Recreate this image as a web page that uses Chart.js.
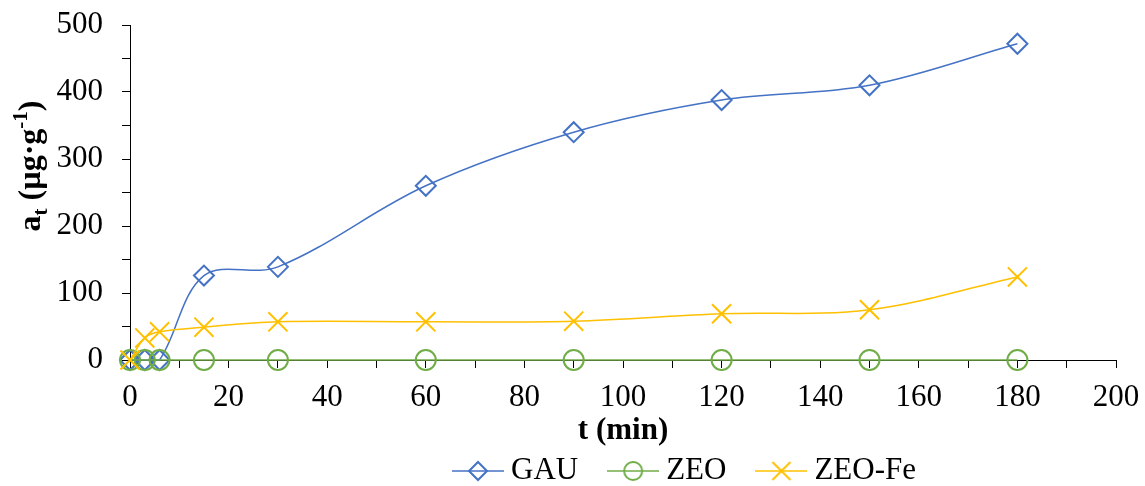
<!DOCTYPE html>
<html>
<head>
<meta charset="utf-8">
<script src="https://cdn.jsdelivr.net/npm/chart.js@4"></script>
<style>
  html, body { margin: 0; padding: 0; background: #fff; }
  #wrap { width: 1145px; height: 486px; position: relative; }
</style>
</head>
<body>
<div id="wrap"><canvas id="chart"></canvas></div>
<script>
// Contact time (min) and uptake a_t (µg·g⁻¹) for each sorbent
const times = [0, 3, 6, 15, 30, 60, 90, 120, 150, 180];
const gau = [0, 0, 0, 126, 139, 260, 340, 388, 410, 472];
const zeo = [0, 0, 0, 0, 0, 0, 0, 0, 0, 0];
const zeoFe = [0, 33, 42, 49, 57, 57, 58, 69, 75, 124];
const seriesNames = ['GAU', 'ZEO', 'ZEO-Fe'];
const seriesColors = ['#4472C4', '#70AD47', '#FFC000'];
const xTickLabels = [0, 20, 40, 60, 80, 100, 120, 140, 160, 180, 200];
const yTickLabels = [0, 100, 200, 300, 400, 500];

const FONT = "'Liberation Serif', 'Times New Roman', serif";
const pointStyles = ['rectRot', 'circle', 'crossRot'];
const pointRadii = [10, 10, 13.5];

function toXY(values) {
  return values.map((v, i) => ({ x: times[i], y: v }));
}

// Small legend swatch: a line segment with the series marker in the middle
function legendSwatch(i) {
  const c = document.createElement('canvas');
  c.width = 52; c.height = 24;
  const g = c.getContext('2d');
  g.strokeStyle = seriesColors[i];
  g.lineWidth = 1.5;
  g.beginPath(); g.moveTo(0, 12); g.lineTo(52, 12); g.stroke();
  g.lineWidth = 2;
  g.beginPath();
  if (i === 0) {
    g.moveTo(26, 3); g.lineTo(35, 12); g.lineTo(26, 21); g.lineTo(17, 12); g.closePath();
  } else if (i === 1) {
    g.arc(26, 12, 9, 0, Math.PI * 2);
  } else {
    g.moveTo(17, 3); g.lineTo(35, 21); g.moveTo(35, 3); g.lineTo(17, 21);
  }
  g.stroke();
  return c;
}

// Rotated y-axis title with subscript and superscript
const yTitlePlugin = {
  id: 'yTitle',
  afterDraw(chart) {
    const ctx = chart.ctx;
    const parts = [
      { t: 'a', size: 32, dy: 0 },
      { t: 't', size: 21, dy: 7 },
      { t: ' (µg·g', size: 32, dy: 0 },
      { t: '-1', size: 21, dy: -13 },
      { t: ')', size: 32, dy: 0 }
    ];
    ctx.save();
    ctx.fillStyle = '#000';
    ctx.textBaseline = 'alphabetic';
    let total = 0;
    parts.forEach(p => { ctx.font = 'bold ' + p.size + 'px ' + FONT; p.w = ctx.measureText(p.t).width; total += p.w; });
    ctx.translate(40, 166);
    ctx.rotate(-Math.PI / 2);
    let x = -total / 2;
    parts.forEach(p => {
      ctx.font = 'bold ' + p.size + 'px ' + FONT;
      ctx.fillText(p.t, x, p.dy);
      x += p.w;
    });
    ctx.restore();
  }
};

// Places the legend row below the axis title
const legendPlacePlugin = {
  id: 'legendPlace',
  afterLayout(chart) {
    const lg = chart.legend;
    if (!lg) return;
    lg.left = 423; lg.width = 1145 - 423; lg.right = 1145;
    lg.top = 418; lg.height = 486 - 418; lg.bottom = 486;
  }
};

const datasets = [gau, zeo, zeoFe].map((vals, i) => ({
  label: seriesNames[i],
  data: toXY(vals),
  borderColor: seriesColors[i],
  backgroundColor: seriesColors[i],
  borderWidth: 1.5,
  tension: 0.35,
  pointStyle: pointStyles[i],
  pointRadius: pointRadii[i],
  pointBorderWidth: 2,
  pointBackgroundColor: 'rgba(255,255,255,0)',
  pointBorderColor: seriesColors[i],
  clip: false,
  order: 2 - i
}));

new Chart(document.getElementById('chart'), {
  type: 'line',
  data: { datasets },
  plugins: [yTitlePlugin, legendPlacePlugin],
  options: {
    responsive: true,
    maintainAspectRatio: false,
    animation: false,
    layout: { padding: { left: 0, right: 29, top: 25, bottom: 0 } },
    plugins: {
      tooltip: { enabled: false },
      legend: {
        position: 'bottom',
        align: 'start',
        maxHeight: 36,
        labels: {
          usePointStyle: true,
          pointStyleWidth: 35,
          padding: 37.5,
          color: '#000',
          font: { family: FONT, size: 31 },
          generateLabels(chart) {
            return chart.data.datasets.map((ds, i) => ({
              text: ds.label,
              pointStyle: legendSwatch(i),
              fillStyle: 'transparent',
              strokeStyle: 'transparent',
              lineWidth: 0,
              hidden: false,
              datasetIndex: i,
              fontColor: '#000'
            }));
          }
        }
      }
    },
    scales: {
      x: {
        type: 'linear',
        min: 0, max: 200,
        afterFit(scale) { scale.height = 90; scale.paddingLeft = 0; scale.paddingRight = 0; },
        ticks: {
          stepSize: 10,
          autoSkip: false,
          maxRotation: 0,
          padding: 11,
          color: '#000',
          font: { family: FONT, size: 31 },
          callback: v => (xTickLabels.includes(v) ? String(v) : '')
        },
        grid: { display: true, drawOnChartArea: false, drawTicks: true, tickLength: 8, color: '#000', tickColor: '#000' },
        border: { display: true, color: '#000', width: 1 },
        title: { display: true, text: 't (min)', color: '#000', font: { family: FONT, size: 31, weight: 'bold' }, padding: { top: 0, bottom: 0 } }
      },
      y: {
        min: 0, max: 500,
        afterFit(scale) { scale.width = 130; scale.paddingTop = 0; scale.paddingBottom = 0; },
        ticks: {
          stepSize: 50,
          autoSkip: false,
          padding: 19,
          color: '#000',
          font: { family: FONT, size: 31 },
          callback: v => (yTickLabels.includes(v) ? String(v) : '')
        },
        grid: { display: true, drawOnChartArea: false, drawTicks: true, tickLength: 8, color: '#000', tickColor: '#000' },
        border: { display: true, color: '#000', width: 1 }
      }
    }
  }
});
</script>
</body>
</html>
